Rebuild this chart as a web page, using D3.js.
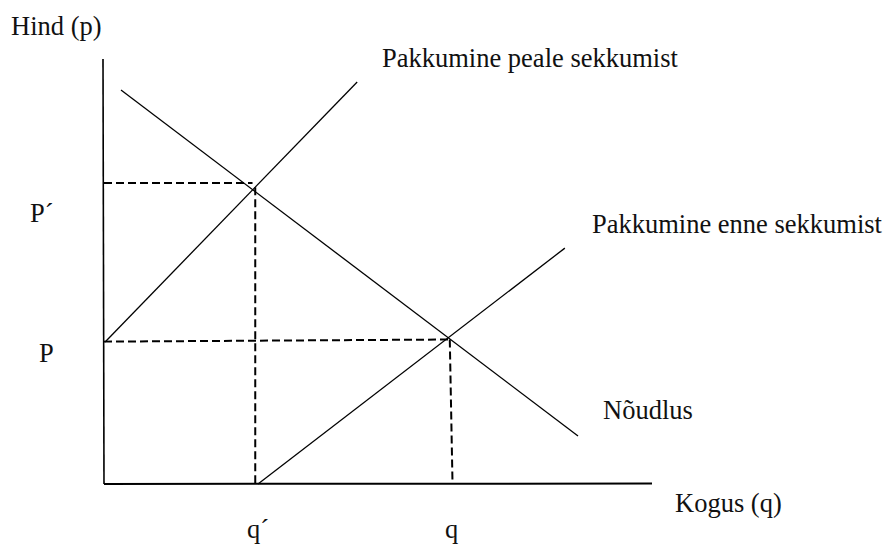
<!DOCTYPE html>
<html>
<head>
<meta charset="utf-8">
<script src="https://cdn.jsdelivr.net/npm/d3@7"></script>
<style>
  body { margin: 0; background: #fff; }
  text { font-family: "Liberation Serif", "Times New Roman", serif; font-size: 26.5px; fill: #111; }
</style>
</head>
<body>
<svg width="886" height="544"></svg>
<script>
// curves in (quantity, price) units
const demand = [[0.31, 9.27], [8.65, 1.13]];
const supplyAfter = [[0.02, 3.34], [4.62, 9.46]];
const supplyBefore = [[2.81, 0], [8.41, 5.55]];

// equilibrium guides
const priceNew = 7.08, qtyNew = 2.76;
const priceOld = 3.40, qtyOld = 6.31;

const axisMax = [10, 10];

const svg = d3.select("svg");
const x = d3.scaleLinear().domain([0, 10]).range([104, 652]);
const y = d3.scaleLinear().domain([0, 10]).range([484, 59]);

const line = d3.line().x(d => x(d[0])).y(d => y(d[1]));

// axes
svg.append("line")
    .attr("x1", x(0) - 1).attr("y1", y(axisMax[1]))
    .attr("x2", x(0)).attr("y2", y(0))
    .attr("stroke", "#000").attr("stroke-width", 1.6);
svg.append("line")
    .attr("x1", x(0)).attr("y1", y(0))
    .attr("x2", x(axisMax[0])).attr("y2", y(0) - 0.5)
    .attr("stroke", "#000").attr("stroke-width", 2);

// dashed guides
const guides = [
    [[0, priceNew], [qtyNew - 0.05, priceNew]],
    [[qtyNew, priceNew - 0.1], [qtyNew, 0]],
    [[0, priceOld - 0.05], [qtyOld, priceOld]],
    [[qtyOld, priceOld], [qtyOld + 0.05, 0]]
];
svg.selectAll(".guide")
    .data(guides)
    .enter()
    .append("path")
    .attr("class", "guide")
    .attr("d", line)
    .attr("fill", "none")
    .attr("stroke", "#000")
    .attr("stroke-width", 2)
    .attr("stroke-dasharray", "8,4");

// curves
svg.selectAll(".curve")
    .data([demand, supplyAfter, supplyBefore])
    .enter()
    .append("path")
    .attr("class", "curve")
    .attr("d", line)
    .attr("fill", "none")
    .attr("stroke", "#000")
    .attr("stroke-width", 1.3);

// labels
const labels = [
    { t: "Hind (p)", x: 11, y: 35 },
    { t: "Pakkumine peale sekkumist", x: 382, y: 67 },
    { t: "Pakkumine enne sekkumist", x: 592, y: 233 },
    { t: "Nõudlus", x: 603, y: 419 },
    { t: "Kogus (q)", x: 675, y: 512 },
    { t: "P´", x: 30, y: 222 },
    { t: "P", x: 39, y: 362 },
    { t: "q´", x: 247, y: 538 },
    { t: "q", x: 445, y: 538 }
];
svg.selectAll(".lbl")
    .data(labels)
    .enter()
    .append("text")
    .attr("class", "lbl")
    .attr("x", d => d.x)
    .attr("y", d => d.y)
    .text(d => d.t);
</script>
</body>
</html>
